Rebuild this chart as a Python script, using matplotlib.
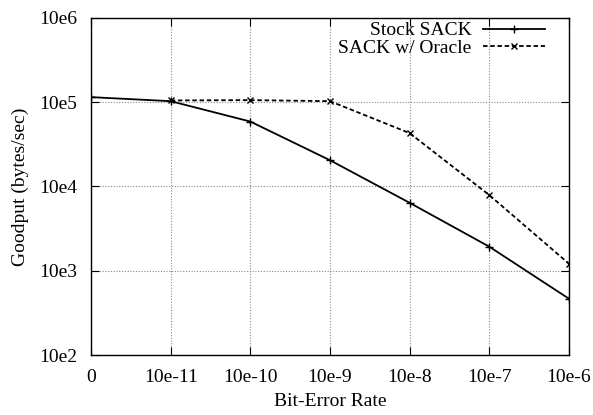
import matplotlib
matplotlib.use("Agg")
import matplotlib.pyplot as plt
from matplotlib.ticker import FixedLocator, NullLocator

categories = ["0", "10e-11", "10e-10", "10e-9", "10e-8", "10e-7", "10e-6"]
stock_x = [0, 1, 2, 3, 4, 5, 6]
stock_sack = [1.15e5, 1.03e5, 5.9e4, 2.05e4, 6.4e3, 1.93e3, 465]
oracle_x = [1, 2, 3, 4, 5, 6]
oracle_sack = [1.05e5, 1.06e5, 1.03e5, 4.3e4, 7.9e3, 1.21e3]
ytick_vals = [1e2, 1e3, 1e4, 1e5, 1e6]
ytick_labels = ["10e2", "10e3", "10e4", "10e5", "10e6"]

plt.rcParams['font.family'] = ['Liberation Serif', 'DejaVu Serif']
plt.rcParams['font.size'] = 14

fig = plt.figure(figsize=(5.93, 4.15), dpi=100)
ax = fig.add_axes([91/593, 1 - 355/415, (569-91)/593, (355-18)/415])

ax.plot(stock_x, stock_sack, color='black', lw=1.3, marker='+', ms=6, mew=1.0,
        label='Stock SACK')
ax.plot(oracle_x, oracle_sack, color='black', lw=1.3, ls=(0, (2.5, 1.5)), marker='x', ms=4.5, mew=1.0,
        label='SACK w/ Oracle')

ax.set_yscale('log')
ax.set_ylim(1e2, 1e6)
ax.set_xlim(0, 6)
ax.yaxis.set_major_locator(FixedLocator(ytick_vals))
ax.set_yticklabels(ytick_labels)
ax.yaxis.set_minor_locator(NullLocator())
ax.set_xticks(range(len(categories)))
ax.set_xticklabels(categories)

ax.grid(True, which='major', color='#888888', ls=(0, (1, 1.5)), lw=0.8)
ax.tick_params(direction='in', top=True, right=True, length=6, width=0.8, pad=10, labelsize=14)
ax.tick_params(axis='x', pad=10)
for s in ax.spines.values():
    s.set_linewidth(1.0)

ax.set_xlabel('Bit-Error Rate', labelpad=5)
ax.set_ylabel('Goodput (bytes/sec)', labelpad=7)

leg = ax.legend(loc='upper right', frameon=False, markerfirst=False, handlelength=3.2,
                borderaxespad=0.0, labelspacing=0.0, handletextpad=0.6,
                bbox_to_anchor=(1 - 16/478, 1.0 + 4/337))

fig.savefig('out.png', dpi=100)
